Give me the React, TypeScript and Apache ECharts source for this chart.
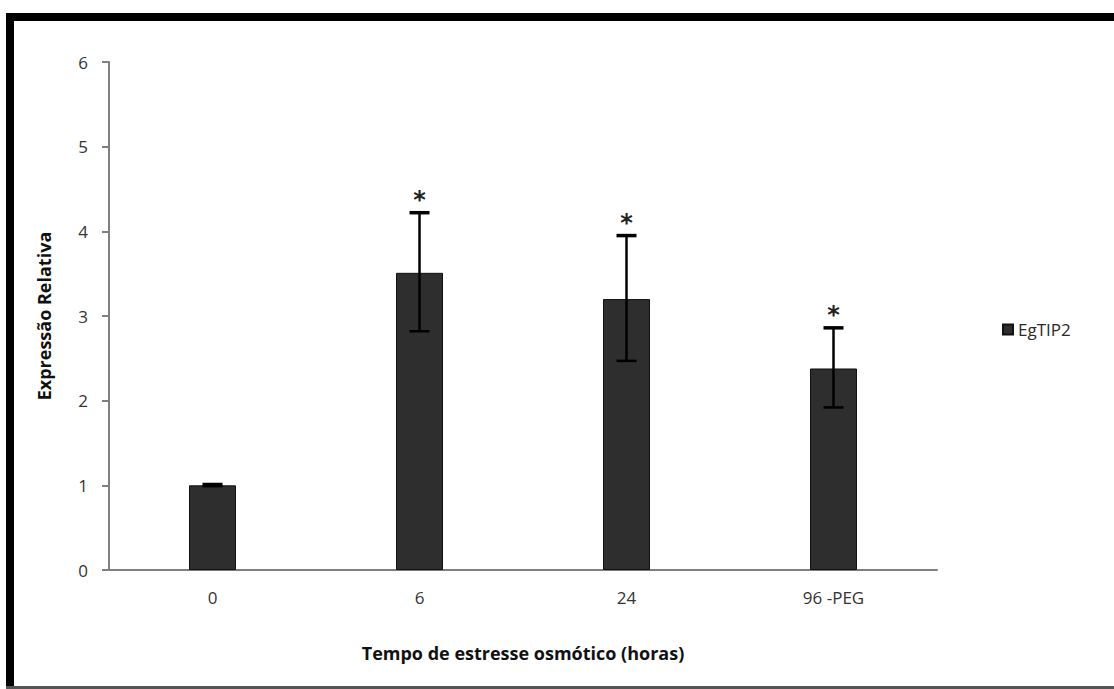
import React, { useEffect, useRef } from "react";
import * as echarts from "echarts";

const categories = ["0", "6", "24", "96 -PEG"];
const values = [1.0, 3.51, 3.2, 2.38];
const errLow = [0.99, 2.82, 2.47, 1.92];
const errHigh = [1.01, 4.22, 3.95, 2.86];
const marks = ["", "*", "*", "*"];
const yTicks = [0, 1, 2, 3, 4, 5, 6];

const FONT = "'Open Sans', Lato, sans-serif";

export default function App() {
  const ref = useRef<HTMLDivElement>(null);
  useEffect(() => {
    if (!ref.current) return;
    const chart = echarts.init(ref.current, null, { renderer: "svg" });
    const errData = categories.map((c, i) => [i, errLow[i], errHigh[i], marks[i]]);
    chart.setOption({
      animation: false,
      backgroundColor: "#ffffff",
      textStyle: { fontFamily: FONT },
      graphic: [
        { type: "rect", shape: { x: 6, y: 13, width: 1108, height: 8 }, style: { fill: "#000" } },
        { type: "rect", shape: { x: 6, y: 13, width: 8, height: 676 }, style: { fill: "#000" } },
        { type: "rect", shape: { x: 6, y: 686, width: 1108, height: 3 }, style: { fill: "#555" } },
      ],
      grid: { left: 109, right: 177, top: 62, bottom: 119 },
      legend: {
        data: ["EgTIP2"],
        left: 997,
        top: 316,
        orient: "vertical",
        icon: "rect",
        itemWidth: 10,
        itemHeight: 10,
        itemGap: 6,
        textStyle: { fontFamily: FONT, fontSize: 17, color: "#2a2a2a", padding: [0, 0, 0, 0] },
      },
      xAxis: {
        type: "category",
        data: categories,
        axisLine: { lineStyle: { color: "#7f7f7f", width: 2 } },
        axisTick: { show: false },
        axisLabel: { fontFamily: FONT, fontSize: 17, color: "#333", margin: 19 },
        name: "Tempo de estresse osmótico (horas)",
        nameLocation: "middle",
        nameGap: 74,
        nameTextStyle: { fontFamily: FONT, fontSize: 18, fontWeight: "bold", color: "#111" },
      },
      yAxis: {
        type: "value",
        min: 0,
        max: 6,
        interval: 1,
        splitLine: { show: false },
        axisLine: { show: true, lineStyle: { color: "#7f7f7f", width: 2 } },
        axisTick: { show: true, length: 7, lineStyle: { color: "#7f7f7f", width: 2 } },
        axisLabel: {
          fontFamily: FONT,
          fontSize: 17,
          color: "#333",
          margin: 21,
          formatter: (v: number) => (yTicks.includes(v) ? String(v) : ""),
        },
        name: "Expressão Relativa",
        nameLocation: "middle",
        nameGap: 56,
        nameRotate: 90,
        nameTextStyle: { fontFamily: FONT, fontSize: 18, fontWeight: "bold", color: "#111" },
      },
      series: [
        {
          name: "EgTIP2",
          type: "bar",
          data: values,
          barWidth: 47,
          itemStyle: { color: "#2e2e2e", borderColor: "#111", borderWidth: 1 },
        },
        {
          type: "custom",
          data: errData,
          z: 10,
          itemStyle: { color: "#000" },
          renderItem: (params: any, api: any) => {
            const x = api.value(0);
            const lo = api.coord([x, api.value(1)]);
            const hi = api.coord([x, api.value(2)]);
            const mark = api.value(3);
            const hw = 10;
            const style = { stroke: "#000", lineWidth: 2.5 };
            const children: any[] = [
              { type: "line", shape: { x1: hi[0], y1: hi[1], x2: lo[0], y2: lo[1] }, style },
              { type: "line", shape: { x1: hi[0] - hw, y1: hi[1], x2: hi[0] + hw, y2: hi[1] }, style: { stroke: "#000", lineWidth: 3.5 } },
              { type: "line", shape: { x1: lo[0] - hw, y1: lo[1], x2: lo[0] + hw, y2: lo[1] }, style: { stroke: "#000", lineWidth: 2.5 } },
            ];
            if (mark) {
              children.push({
                type: "text",
                style: {
                  text: mark,
                  x: hi[0],
                  y: hi[1] - 13,
                  align: "center",
                  verticalAlign: "middle",
                  fontSize: 24,
                  fontWeight: "bold",
                  fontFamily: "'DejaVu Sans', sans-serif",
                  fill: "#222",
                },
              });
            }
            return { type: "group", children };
          },
        },
      ],
    });
    return () => chart.dispose();
  }, []);
  return (
    <div
      ref={ref}
      style={{ position: "absolute", left: 0, top: 0, width: 1114, height: 689 }}
    />
  );
}
